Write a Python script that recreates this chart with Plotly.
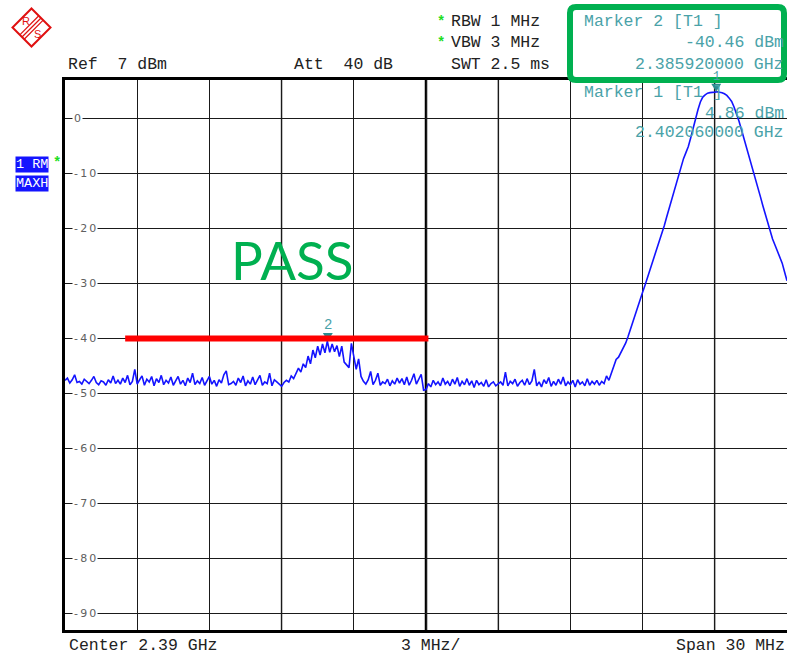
import numpy as np
import plotly.graph_objects as go

# ---- sweep settings -------------------------------------------------------
F_START_MHZ = 2375.0
F_STOP_MHZ = 2405.0
DIV_MHZ = 3.0
REF_LEVEL_DBM = 7.0
BOTTOM_LEVEL_DBM = -93.0

# ---- trace 1 (max hold), one value per 0.1 MHz sweep point ----------------
LEVEL_DBM = [
    -47.6, -47.2, -48.1, -47.5, -46.6, -48.0, -47.8, -48.3, -47.4, -47.9,   # 2375
    -48.2, -47.6, -46.9, -48.0, -48.4, -47.7, -47.9, -48.5, -47.5, -48.1,   # 2376
    -46.8, -48.2, -47.6, -48.3, -47.2, -48.0, -46.7, -48.4, -47.8, -45.6,   # 2377
    -48.3, -47.5, -46.8, -48.5, -47.4, -47.9, -46.9, -48.6, -47.3, -48.0,   # 2378
    -46.7, -48.4, -47.6, -48.1, -47.0, -48.5, -47.8, -46.9, -48.3, -47.6,   # 2379
    -48.6, -47.2, -48.0, -46.3, -48.4, -47.7, -48.2, -47.1, -48.5, -47.8,   # 2380
    -46.9, -48.3, -47.6, -48.7, -47.5, -48.1, -46.6, -45.9, -48.4, -48.2,   # 2381
    -47.8, -48.5, -47.2, -48.0, -46.8, -48.6, -47.7, -48.3, -47.0, -48.4,   # 2382
    -47.6, -46.7, -48.5, -47.9, -48.2, -46.3, -48.6, -47.5, -47.9, -48.3,   # 2383
    -48.7, -48.0, -47.6, -47.9, -46.8, -47.3, -46.2, -45.4, -46.1, -44.6,   # 2384
    -45.3, -43.2, -44.6, -42.1, -43.5, -41.4, -43.0, -41.0, -42.6, -40.5,   # 2385
    -42.5, -41.0, -42.4, -41.3, -43.3, -41.4, -44.3, -44.8, -45.3, -40.9,   # 2386
    -43.5, -45.6, -43.7, -46.9, -47.8, -48.3, -47.5, -46.0, -48.4, -47.6,   # 2387
    -46.3, -48.5, -47.9, -48.2, -47.4, -48.6, -47.7, -48.3, -47.2, -48.1,   # 2388
    -47.3, -48.4, -47.0, -48.5, -47.6, -46.4, -48.3, -47.5, -46.5, -49.4,   # 2389
    -49.3, -48.2, -48.8, -47.6, -48.4, -47.9, -48.6, -47.2, -48.3, -47.8,   # 2390
    -48.6, -47.4, -48.3, -47.1, -48.7, -47.8, -48.4, -47.3, -48.5, -47.7,   # 2391
    -48.9, -47.6, -48.4, -48.0, -48.7, -47.5, -48.8, -48.2, -47.9, -48.6,   # 2392
    -48.3, -47.9, -48.5, -46.1, -48.6, -47.8, -48.2, -47.4, -48.7, -48.0,   # 2393
    -47.6, -48.5, -47.3, -48.4, -47.7, -45.6, -48.6, -47.9, -48.8, -47.5,   # 2394
    -48.2, -47.1, -48.7, -47.8, -48.5, -47.4, -48.3, -47.0, -48.6, -47.9,   # 2395
    -48.4, -47.6, -48.8, -47.5, -48.3, -47.9, -48.6, -47.3, -48.5, -47.8,   # 2396
    -48.3, -47.6, -48.5, -47.8, -48.2, -46.8, -47.6, -46.4, -45.0, -43.8,   # 2397
    -43.4, -42.6, -41.7, -40.8, -39.6, -38.2, -36.8, -35.4, -34.0, -32.8,   # 2398
    -31.6, -30.3, -29.0, -27.7, -26.4, -25.1, -23.8, -22.5, -21.0, -19.5,   # 2399
    -17.9, -16.4, -14.8, -13.2, -11.6, -10.1, -8.6, -7.3, -6.2, -5.1,       # 2400
    -3.5, -1.7, 0.1, 1.6, 3.0, 3.9, 4.3, 4.6, 4.7, 4.8,                     # 2401
    4.8, 4.86, 4.8, 4.7, 4.5, 4.2, 3.7, 3.1, 2.1, 0.9,                      # 2402
    -0.4, -1.9, -3.4, -5.0, -6.6, -8.1, -9.6, -11.1, -12.7, -14.3,          # 2403
    -15.9, -17.5, -19.1, -20.6, -21.9, -23.0, -24.0, -25.0, -26.3, -27.9,   # 2404
    -29.5,                                                                  # 2405
]

GRID_FREQ_MHZ = [2375, 2378, 2381, 2384, 2387, 2390, 2393, 2396, 2399, 2402, 2405]
GRAY_GRID_MHZ = [2384, 2393, 2402]
LEVEL_TICKS_DBM = [0, -10, -20, -30, -40, -50, -60, -70, -80, -90]

MARKER_IDS = [1, 2]
MARKER_FREQ_GHZ = [2.40206, 2.38592]
MARKER_LEVEL_DBM = [4.86, -40.46]

LIMIT_FREQ_MHZ = [2377.5, 2390.1]
LIMIT_LEVEL_DBM = [-40.0, -40.0]

# ---- page geometry (pixels) -----------------------------------------------
W, H = 787, 654
PL, PT, PW, PH = 65, 80, 722, 550


def xp(px):
    return (px - PL) / PW


def yp(py):
    return (PT + PH - py) / PH


MONO = "Liberation Mono, Courier New, monospace"
TEAL = "#4aa2a8"
TEAL_DARK = "#2a8c90"
GREEN = "#00b050"
BLUE = "#1414ff"
RS_RED = "#e01010"
STAR_GREEN = "#20dd20"

freq_mhz = np.linspace(F_START_MHZ, F_STOP_MHZ, len(LEVEL_DBM))

fig = go.Figure()
fig.add_trace(go.Scatter(
    x=freq_mhz, y=LEVEL_DBM, mode="lines",
    line=dict(color=BLUE, width=1.6), hoverinfo="skip", showlegend=False,
))

annotations = []
shapes = []


def text(s, px, py, anchor="left", color="#222222", size=16.5, family=MONO, **kw):
    annotations.append(dict(
        text=s, xref="paper", yref="paper", x=xp(px), y=yp(py),
        xanchor=anchor, yanchor="middle", showarrow=False,
        font=dict(family=family, size=size, color=color), **kw,
    ))


# header
text(f"Ref  {REF_LEVEL_DBM:g} dBm", 66, 64)
text("Att  40 dB", 292, 64)
text("RBW 1 MHz", 449, 22)
text("VBW 3 MHz", 449, 43)
text("SWT 2.5 ms", 449, 64)
text("<b>*</b>", 441, 22, anchor="center", color=STAR_GREEN, size=14)
text("<b>*</b>", 441, 43, anchor="center", color=STAR_GREEN, size=14)

# trace info boxes on the left
text("1 RM", 15, 164, color="white", size=13.5, bgcolor=BLUE, borderpad=0)
text("MAXH", 15, 183, color="white", size=13.5, bgcolor=BLUE, borderpad=0)
text("<b>*</b>", 57, 163, anchor="center", color=STAR_GREEN, size=14)

# footer
center_ghz = (F_START_MHZ + F_STOP_MHZ) / 2 / 1000
span_mhz = F_STOP_MHZ - F_START_MHZ
text(f"Center {center_ghz:g} GHz", 67, 645)
text(f"{DIV_MHZ:g} MHz/", 399, 645)
text(f"Span {span_mhz:g} MHz", 787, 645, anchor="right")

# level labels sitting on the grid lines
for v in LEVEL_TICKS_DBM:
    annotations.append(dict(
        text="\u2009".join(str(v)), xref="paper", yref="y", x=xp(72), y=v,
        xanchor="left", yanchor="middle", showarrow=False, bgcolor="white",
        borderpad=1, font=dict(family="DejaVu Sans", size=11, color="#606060"),
    ))

# marker readouts
m1, m2 = 0, 1
text(f"Marker {MARKER_IDS[m2]} [T1 ]", 582, 22, color=TEAL)
text(f"{MARKER_LEVEL_DBM[m2]:.2f} dBm", 786, 43, anchor="right", color=TEAL)
text(f"{MARKER_FREQ_GHZ[m2]:.9f} GHz", 786, 64, anchor="right", color=TEAL)
text(f"Marker {MARKER_IDS[m1]} [T1 ]", 582, 92, color=TEAL)
text(f"{MARKER_LEVEL_DBM[m1]:.2f} dBm", 786, 113, anchor="right", color=TEAL)
text(f"{MARKER_FREQ_GHZ[m1]:.9f} GHz", 786, 133, anchor="right", color=TEAL)

# PASS verdict
text("PASS", 292, 259, anchor="center", color=GREEN, size=53, family="Lato")

# special vertical grid lines
for f in GRAY_GRID_MHZ:
    shapes.append(dict(type="line", xref="x", yref="paper", x0=f, x1=f, y0=0, y1=1,
                       line=dict(color="#9a9a9a", width=2), layer="between"))
center_mhz = (F_START_MHZ + F_STOP_MHZ) / 2
shapes.append(dict(type="line", xref="x", yref="paper", x0=center_mhz, x1=center_mhz,
                   y0=0, y1=1, line=dict(color="black", width=2.5), layer="between"))

# marker symbols and numbers
for mid, fg, lv in zip(MARKER_IDS, MARKER_FREQ_GHZ, MARKER_LEVEL_DBM):
    f = fg * 1000
    shapes.append(dict(type="path", xref="x", yref="y", xsizemode="pixel",
                       ysizemode="pixel", xanchor=f, yanchor=lv,
                       path="M -5 8 L 5 8 L 0 0 Z", fillcolor=TEAL_DARK,
                       line=dict(width=0), layer="above"))
    annotations.append(dict(
        text=str(mid), xref="x", yref="y", x=f, y=lv, xanchor="center",
        yanchor="bottom", yshift=6, showarrow=False,
        font=dict(family=MONO, size=12 if mid == 1 else 14, color=TEAL),
    ))

# limit line
shapes.append(dict(type="line", xref="x", yref="y",
                   x0=LIMIT_FREQ_MHZ[0], x1=LIMIT_FREQ_MHZ[1],
                   y0=LIMIT_LEVEL_DBM[0], y1=LIMIT_LEVEL_DBM[1],
                   line=dict(color="#ff0000", width=6), layer="above"))


def px_path(cmds):
    out = []
    for c in cmds:
        if isinstance(c, str):
            out.append(c)
        else:
            out.append(f"{xp(c[0]):.5f},{yp(c[1]):.5f}")
    return " ".join(out)


# green frame round the marker readout
x0, x1, y0, y1, r = 570, 784, 7, 80, 6
shapes.append(dict(
    type="path", xref="paper", yref="paper", layer="above",
    path=px_path(["M", (x0 + r, y0), "L", (x1 - r, y0), "Q", (x1, y0), (x1, y0 + r),
                  "L", (x1, y1 - r), "Q", (x1, y1), (x1 - r, y1),
                  "L", (x0 + r, y1), "Q", (x0, y1), (x0, y1 - r),
                  "L", (x0, y0 + r), "Q", (x0, y0), (x0 + r, y0), "Z"]),
    line=dict(color=GREEN, width=6),
))

# R&S logo
cx, cy, hs = 31.5, 27.5, 19
shapes.append(dict(
    type="path", xref="paper", yref="paper", layer="above",
    path=px_path(["M", (cx, cy - hs), "L", (cx + hs, cy), "L", (cx, cy + hs),
                  "L", (cx - hs, cy), "Z"]),
    line=dict(color=RS_RED, width=2),
))
for d in (-2.2, 0.0, 2.2):
    ax, ay = cx + hs / 2 + d, cy - hs / 2 + d
    bx, by = cx - hs / 2 + d, cy + hs / 2 + d
    shapes.append(dict(type="path", xref="paper", yref="paper", layer="above",
                       path=px_path(["M", (ax, ay), "L", (bx, by)]),
                       line=dict(color=RS_RED, width=1.2)))
text("R", 26, 21, anchor="center", color=RS_RED, size=11, family="Liberation Sans")
text("S", 37, 34, anchor="center", color=RS_RED, size=11, family="Liberation Sans")

fig.update_layout(
    width=W, height=H,
    margin=dict(l=PL, r=W - PL - PW, t=PT, b=H - PT - PH, pad=0),
    paper_bgcolor="white", plot_bgcolor="white",
    showlegend=False,
    annotations=annotations, shapes=shapes,
    xaxis=dict(range=[F_START_MHZ, F_STOP_MHZ], tickvals=GRID_FREQ_MHZ,
               showticklabels=False, ticks="", showgrid=True, gridcolor="#1a1a1a",
               gridwidth=1, zeroline=False, showline=True, linecolor="black",
               linewidth=3, mirror=True),
    yaxis=dict(range=[BOTTOM_LEVEL_DBM, REF_LEVEL_DBM], tickvals=LEVEL_TICKS_DBM,
               showticklabels=False, ticks="", showgrid=True, gridcolor="#1a1a1a",
               gridwidth=1, zeroline=False, showline=True, linecolor="black",
               linewidth=3, mirror=False),
)

fig.write_html("out.html")
